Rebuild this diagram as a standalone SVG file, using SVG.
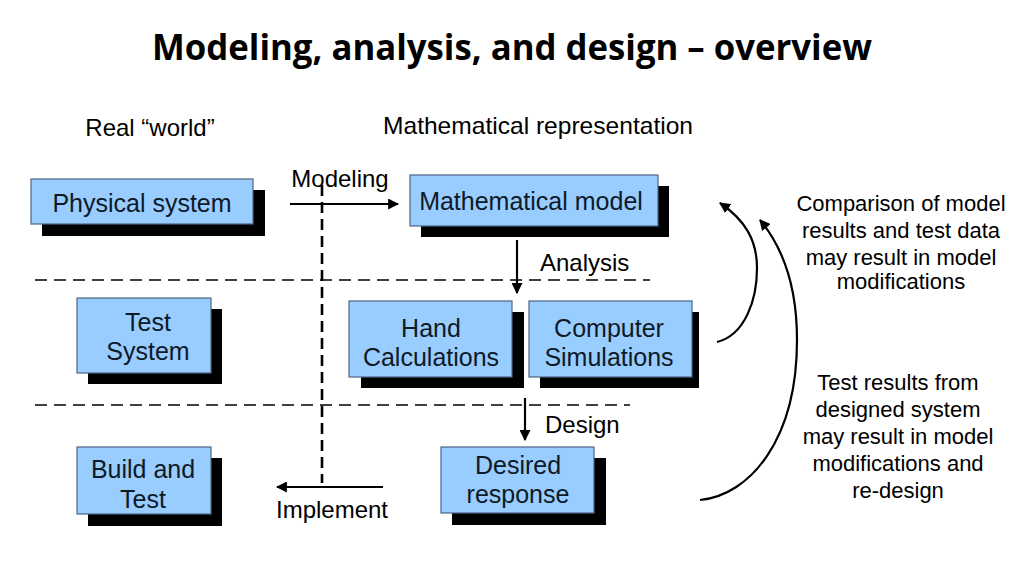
<svg xmlns="http://www.w3.org/2000/svg" width="1024" height="576" viewBox="0 0 1024 576">
<defs>
<style>
.box{fill:#99ccff;stroke:#4d6680;stroke-width:1.2}
.sh{fill:#000}
.bt{font-family:"Liberation Sans",Arial,sans-serif;font-size:25px;fill:#0e1a26;text-anchor:middle}
.lb{font-family:"Liberation Sans",Arial,sans-serif;font-size:24px;fill:#000}
.nt{font-family:"Liberation Sans",Arial,sans-serif;font-size:22px;fill:#000;text-anchor:middle}
.ln{stroke:#000;stroke-width:2.2;fill:none}
.dash{stroke:#000;stroke-width:1.5;stroke-dasharray:12 7;fill:none}
</style>
<marker id="ah" viewBox="0 0 10 10" refX="9" refY="5" markerWidth="11" markerHeight="11" markerUnits="userSpaceOnUse" orient="auto">
<path d="M0,0 L10,5 L0,10 z" fill="#000"/>
</marker>
</defs>
<rect width="1024" height="576" fill="#fff"/>
<text x="512" y="60" font-family="'Open Sans',sans-serif" font-weight="bold" font-size="35" text-anchor="middle" textLength="720" lengthAdjust="spacingAndGlyphs">Modeling, analysis, and design – overview</text>
<text x="150" y="136" class="lb" text-anchor="middle">Real “world”</text>
<text x="538" y="134" class="lb" text-anchor="middle" textLength="310" lengthAdjust="spacingAndGlyphs">Mathematical representation</text>

<g id="connectors">
<line class="dash" x1="35" y1="280" x2="650" y2="280"/>
<line class="dash" x1="35" y1="405" x2="630" y2="405"/>
<line x1="322" y1="185" x2="322" y2="483" stroke="#000" stroke-width="2.6" stroke-dasharray="11 6"/>
<line class="ln" x1="290" y1="204" x2="398" y2="204" marker-end="url(#ah)"/>
<line class="ln" x1="517" y1="240" x2="517" y2="293" marker-end="url(#ah)"/>
<line class="ln" x1="525" y1="398" x2="525" y2="440" marker-end="url(#ah)"/>
<line class="ln" x1="383" y1="487" x2="277" y2="487" marker-end="url(#ah)"/>
<path class="ln" d="M717,342 C745,335 757,300 757,268 C757,240 745,220 720,203" marker-end="url(#ah)"/>
<path class="ln" d="M700,500 C750,495 797,440 797,340 C797,290 785,250 760,220" marker-end="url(#ah)"/>
<text x="340" y="187" class="lb" text-anchor="middle">Modeling</text>
<text x="540" y="271" class="lb">Analysis</text>
<text x="545" y="433" class="lb">Design</text>
<text x="332" y="518" class="lb" text-anchor="middle">Implement</text>
</g>

<g id="physical-system">
<rect class="sh" x="42" y="190" width="223" height="46"/>
<rect class="box" x="31" y="179" width="222" height="45"/>
<text class="bt" x="142" y="212">Physical system</text>
</g>
<g id="mathematical-model">
<rect class="sh" x="421" y="186" width="248" height="51"/>
<rect class="box" x="410" y="175" width="248" height="51"/>
<text class="bt" x="531" y="210">Mathematical model</text>
</g>
<g id="test-system">
<rect class="sh" x="88" y="309" width="134" height="75"/>
<rect class="box" x="77" y="298" width="134" height="75"/>
<text class="bt" x="148" y="331">Test</text>
<text class="bt" x="148" y="360">System</text>
</g>
<g id="hand-calculations">
<rect class="sh" x="361" y="312" width="163" height="76"/>
<rect class="box" x="349" y="301" width="163" height="76"/>
<text class="bt" x="431" y="337">Hand</text>
<text class="bt" x="431" y="366">Calculations</text>
</g>
<g id="computer-simulations">
<rect class="sh" x="540" y="312" width="159" height="76"/>
<rect class="box" x="529" y="301" width="163" height="76"/>
<text class="bt" x="609" y="337">Computer</text>
<text class="bt" x="609" y="366">Simulations</text>
</g>
<g id="build-and-test">
<rect class="sh" x="88" y="458" width="134" height="68"/>
<rect class="box" x="77" y="447" width="134" height="67"/>
<text class="bt" x="143" y="478">Build and</text>
<text class="bt" x="143" y="508">Test</text>
</g>
<g id="desired-response">
<rect class="sh" x="452" y="458" width="154" height="67"/>
<rect class="box" x="441" y="447" width="153" height="66"/>
<text class="bt" x="518" y="474">Desired</text>
<text class="bt" x="518" y="503">response</text>
</g>

<g id="notes">
<text class="nt" x="901" y="211">Comparison of model</text>
<text class="nt" x="901" y="238">results and test data</text>
<text class="nt" x="901" y="265">may result in model</text>
<text class="nt" x="901" y="289">modifications</text>
<text class="nt" x="898" y="390">Test results from</text>
<text class="nt" x="898" y="417">designed system</text>
<text class="nt" x="898" y="444">may result in model</text>
<text class="nt" x="898" y="471">modifications and</text>
<text class="nt" x="898" y="498">re-design</text>
</g>
</svg>
